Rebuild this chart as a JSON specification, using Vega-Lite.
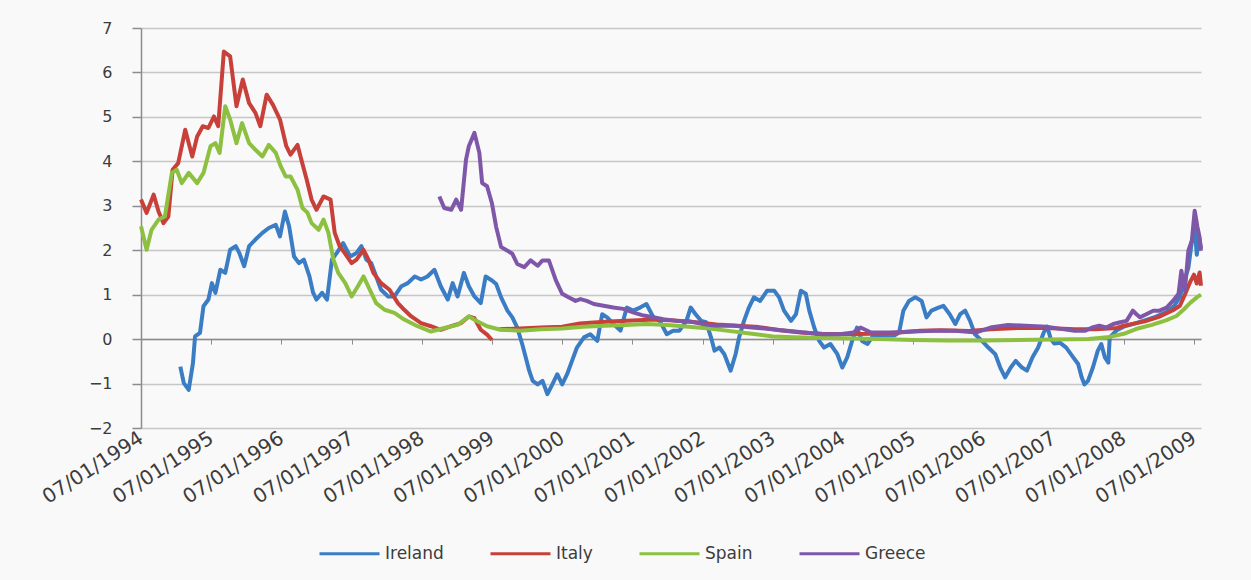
{
  "$schema": "https://vega.github.io/schema/vega-lite/v6.json",
  "width": 1060,
  "height": 400,
  "autosize": {"type": "none"},
  "padding": {"left": 141, "top": 28, "right": 50, "bottom": 152},
  "background": "#f9f9f9",
  "config": {"view": {"stroke": null}, "font": "DejaVu Sans"},
  "data": {"values": [
    {"country":"Ireland","year":1994.56,"spread":-0.62},{"country":"Ireland","year":1994.61,"spread":-0.99},{"country":"Ireland","year":1994.68,"spread":-1.14},{"country":"Ireland","year":1994.74,"spread":-0.54},{"country":"Ireland","year":1994.77,"spread":0.06},{"country":"Ireland","year":1994.84,"spread":0.14},{"country":"Ireland","year":1994.89,"spread":0.74},{"country":"Ireland","year":1994.96,"spread":0.89},{"country":"Ireland","year":1995.01,"spread":1.26},{"country":"Ireland","year":1995.06,"spread":1.04},{"country":"Ireland","year":1995.13,"spread":1.56},{"country":"Ireland","year":1995.2,"spread":1.49},{"country":"Ireland","year":1995.27,"spread":2.01},{"country":"Ireland","year":1995.35,"spread":2.09},{"country":"Ireland","year":1995.4,"spread":1.94},{"country":"Ireland","year":1995.47,"spread":1.64},{"country":"Ireland","year":1995.54,"spread":2.09},{"country":"Ireland","year":1995.63,"spread":2.24},{"country":"Ireland","year":1995.73,"spread":2.39},{"country":"Ireland","year":1995.82,"spread":2.5},{"country":"Ireland","year":1995.92,"spread":2.57},{"country":"Ireland","year":1995.98,"spread":2.31},{"country":"Ireland","year":1996.05,"spread":2.87},{"country":"Ireland","year":1996.11,"spread":2.54},{"country":"Ireland","year":1996.18,"spread":1.86},{"country":"Ireland","year":1996.25,"spread":1.71},{"country":"Ireland","year":1996.32,"spread":1.79},{"country":"Ireland","year":1996.4,"spread":1.41},{"country":"Ireland","year":1996.45,"spread":1.05},{"country":"Ireland","year":1996.5,"spread":0.89},{"country":"Ireland","year":1996.58,"spread":1.04},{"country":"Ireland","year":1996.65,"spread":0.89},{"country":"Ireland","year":1996.72,"spread":1.79},{"country":"Ireland","year":1996.79,"spread":1.94},{"country":"Ireland","year":1996.88,"spread":2.16},{"country":"Ireland","year":1996.98,"spread":1.86},{"country":"Ireland","year":1997.07,"spread":1.94},{"country":"Ireland","year":1997.14,"spread":2.09},{"country":"Ireland","year":1997.21,"spread":1.79},{"country":"Ireland","year":1997.28,"spread":1.71},{"country":"Ireland","year":1997.35,"spread":1.41},{"country":"Ireland","year":1997.42,"spread":1.11},{"country":"Ireland","year":1997.52,"spread":0.96},{"country":"Ireland","year":1997.61,"spread":0.96},{"country":"Ireland","year":1997.71,"spread":1.19},{"country":"Ireland","year":1997.8,"spread":1.26},{"country":"Ireland","year":1997.9,"spread":1.41},{"country":"Ireland","year":1997.99,"spread":1.34},{"country":"Ireland","year":1998.08,"spread":1.41},{"country":"Ireland","year":1998.18,"spread":1.56},{"country":"Ireland","year":1998.27,"spread":1.19},{"country":"Ireland","year":1998.37,"spread":0.89},{"country":"Ireland","year":1998.44,"spread":1.26},{"country":"Ireland","year":1998.51,"spread":0.96},{"country":"Ireland","year":1998.6,"spread":1.49},{"country":"Ireland","year":1998.67,"spread":1.19},{"country":"Ireland","year":1998.75,"spread":0.96},{"country":"Ireland","year":1998.84,"spread":0.81},{"country":"Ireland","year":1998.91,"spread":1.41},{"country":"Ireland","year":1999.0,"spread":1.32},{"country":"Ireland","year":1999.06,"spread":1.24},{"country":"Ireland","year":1999.13,"spread":0.94},{"country":"Ireland","year":1999.22,"spread":0.64},{"country":"Ireland","year":1999.29,"spread":0.49},{"country":"Ireland","year":1999.36,"spread":0.26},{"country":"Ireland","year":1999.43,"spread":-0.11},{"country":"Ireland","year":1999.48,"spread":-0.41},{"country":"Ireland","year":1999.53,"spread":-0.71},{"country":"Ireland","year":1999.58,"spread":-0.94},{"country":"Ireland","year":1999.65,"spread":-1.02},{"country":"Ireland","year":1999.72,"spread":-0.94},{"country":"Ireland","year":1999.79,"spread":-1.24},{"country":"Ireland","year":1999.86,"spread":-1.02},{"country":"Ireland","year":1999.93,"spread":-0.79},{"country":"Ireland","year":2000.0,"spread":-1.02},{"country":"Ireland","year":2000.07,"spread":-0.79},{"country":"Ireland","year":2000.14,"spread":-0.49},{"country":"Ireland","year":2000.21,"spread":-0.19},{"country":"Ireland","year":2000.31,"spread":0.04},{"country":"Ireland","year":2000.4,"spread":0.11},{"country":"Ireland","year":2000.5,"spread":-0.04},{"country":"Ireland","year":2000.57,"spread":0.56},{"country":"Ireland","year":2000.64,"spread":0.49},{"country":"Ireland","year":2000.73,"spread":0.34},{"country":"Ireland","year":2000.83,"spread":0.19},{"country":"Ireland","year":2000.92,"spread":0.71},{"country":"Ireland","year":2001.01,"spread":0.64},{"country":"Ireland","year":2001.11,"spread":0.71},{"country":"Ireland","year":2001.2,"spread":0.79},{"country":"Ireland","year":2001.3,"spread":0.49},{"country":"Ireland","year":2001.39,"spread":0.41},{"country":"Ireland","year":2001.49,"spread":0.11},{"country":"Ireland","year":2001.58,"spread":0.19},{"country":"Ireland","year":2001.67,"spread":0.19},{"country":"Ireland","year":2001.77,"spread":0.41},{"country":"Ireland","year":2001.83,"spread":0.71},{"country":"Ireland","year":2001.9,"spread":0.56},{"country":"Ireland","year":2001.98,"spread":0.41},{"country":"Ireland","year":2002.05,"spread":0.38},{"country":"Ireland","year":2002.12,"spread":0.04},{"country":"Ireland","year":2002.17,"spread":-0.26},{"country":"Ireland","year":2002.24,"spread":-0.19},{"country":"Ireland","year":2002.31,"spread":-0.34},{"country":"Ireland","year":2002.4,"spread":-0.71},{"country":"Ireland","year":2002.47,"spread":-0.34},{"country":"Ireland","year":2002.52,"spread":0.04},{"country":"Ireland","year":2002.59,"spread":0.41},{"country":"Ireland","year":2002.66,"spread":0.71},{"country":"Ireland","year":2002.73,"spread":0.94},{"country":"Ireland","year":2002.82,"spread":0.86},{"country":"Ireland","year":2002.92,"spread":1.09},{"country":"Ireland","year":2003.02,"spread":1.09},{"country":"Ireland","year":2003.09,"spread":0.94},{"country":"Ireland","year":2003.16,"spread":0.64},{"country":"Ireland","year":2003.26,"spread":0.41},{"country":"Ireland","year":2003.33,"spread":0.56},{"country":"Ireland","year":2003.4,"spread":1.09},{"country":"Ireland","year":2003.47,"spread":1.02},{"country":"Ireland","year":2003.52,"spread":0.64},{"country":"Ireland","year":2003.59,"spread":0.26},{"country":"Ireland","year":2003.66,"spread":-0.04},{"country":"Ireland","year":2003.73,"spread":-0.19},{"country":"Ireland","year":2003.82,"spread":-0.11},{"country":"Ireland","year":2003.92,"spread":-0.34},{"country":"Ireland","year":2003.99,"spread":-0.64},{"country":"Ireland","year":2004.06,"spread":-0.41},{"country":"Ireland","year":2004.13,"spread":-0.04},{"country":"Ireland","year":2004.2,"spread":0.26},{"country":"Ireland","year":2004.27,"spread":-0.04},{"country":"Ireland","year":2004.35,"spread":-0.11},{"country":"Ireland","year":2004.44,"spread":0.1},{"country":"Ireland","year":2004.58,"spread":0.08},{"country":"Ireland","year":2004.73,"spread":0.08},{"country":"Ireland","year":2004.8,"spread":0.15},{"country":"Ireland","year":2004.86,"spread":0.64},{"country":"Ireland","year":2004.94,"spread":0.86},{"country":"Ireland","year":2005.03,"spread":0.94},{"country":"Ireland","year":2005.12,"spread":0.86},{"country":"Ireland","year":2005.19,"spread":0.49},{"country":"Ireland","year":2005.26,"spread":0.64},{"country":"Ireland","year":2005.36,"spread":0.71},{"country":"Ireland","year":2005.43,"spread":0.75},{"country":"Ireland","year":2005.52,"spread":0.56},{"country":"Ireland","year":2005.6,"spread":0.34},{"country":"Ireland","year":2005.67,"spread":0.56},{"country":"Ireland","year":2005.74,"spread":0.64},{"country":"Ireland","year":2005.81,"spread":0.41},{"country":"Ireland","year":2005.88,"spread":0.11},{"country":"Ireland","year":2005.98,"spread":-0.04},{"country":"Ireland","year":2006.07,"spread":-0.19},{"country":"Ireland","year":2006.17,"spread":-0.34},{"country":"Ireland","year":2006.24,"spread":-0.64},{"country":"Ireland","year":2006.31,"spread":-0.86},{"country":"Ireland","year":2006.39,"spread":-0.64},{"country":"Ireland","year":2006.46,"spread":-0.49},{"country":"Ireland","year":2006.55,"spread":-0.64},{"country":"Ireland","year":2006.62,"spread":-0.71},{"country":"Ireland","year":2006.7,"spread":-0.41},{"country":"Ireland","year":2006.78,"spread":-0.19},{"country":"Ireland","year":2006.86,"spread":0.15},{"country":"Ireland","year":2006.91,"spread":0.28},{"country":"Ireland","year":2006.96,"spread":0.0},{"country":"Ireland","year":2007.01,"spread":-0.1},{"country":"Ireland","year":2007.09,"spread":-0.08},{"country":"Ireland","year":2007.18,"spread":-0.19},{"country":"Ireland","year":2007.28,"spread":-0.41},{"country":"Ireland","year":2007.35,"spread":-0.56},{"country":"Ireland","year":2007.4,"spread":-0.86},{"country":"Ireland","year":2007.44,"spread":-1.02},{"country":"Ireland","year":2007.49,"spread":-0.94},{"country":"Ireland","year":2007.56,"spread":-0.64},{"country":"Ireland","year":2007.63,"spread":-0.26},{"country":"Ireland","year":2007.68,"spread":-0.11},{"country":"Ireland","year":2007.73,"spread":-0.41},{"country":"Ireland","year":2007.78,"spread":-0.53},{"country":"Ireland","year":2007.8,"spread":0.04},{"country":"Ireland","year":2007.9,"spread":0.2},{"country":"Ireland","year":2008.0,"spread":0.28},{"country":"Ireland","year":2008.15,"spread":0.35},{"country":"Ireland","year":2008.3,"spread":0.42},{"country":"Ireland","year":2008.45,"spread":0.5},{"country":"Ireland","year":2008.6,"spread":0.6},{"country":"Ireland","year":2008.72,"spread":0.75},{"country":"Ireland","year":2008.8,"spread":0.95},{"country":"Ireland","year":2008.86,"spread":1.3},{"country":"Ireland","year":2008.92,"spread":1.6},{"country":"Ireland","year":2008.97,"spread":2.2},{"country":"Ireland","year":2009.01,"spread":2.5},{"country":"Ireland","year":2009.04,"spread":1.9},{"country":"Ireland","year":2009.07,"spread":2.3},{"country":"Ireland","year":2009.1,"spread":2.05},

    {"country":"Italy","part":1,"year":1994.0,"spread":3.14},{"country":"Italy","part":1,"year":1994.08,"spread":2.84},{"country":"Italy","part":1,"year":1994.18,"spread":3.25},{"country":"Italy","part":1,"year":1994.25,"spread":2.87},{"country":"Italy","part":1,"year":1994.32,"spread":2.61},{"country":"Italy","part":1,"year":1994.39,"spread":2.76},{"country":"Italy","part":1,"year":1994.45,"spread":3.81},{"country":"Italy","part":1,"year":1994.53,"spread":3.96},{"country":"Italy","part":1,"year":1994.63,"spread":4.71},{"country":"Italy","part":1,"year":1994.73,"spread":4.11},{"country":"Italy","part":1,"year":1994.8,"spread":4.56},{"country":"Italy","part":1,"year":1994.88,"spread":4.79},{"country":"Italy","part":1,"year":1994.96,"spread":4.75},{"country":"Italy","part":1,"year":1995.04,"spread":5.01},{"country":"Italy","part":1,"year":1995.1,"spread":4.79},{"country":"Italy","part":1,"year":1995.18,"spread":6.47},{"country":"Italy","part":1,"year":1995.27,"spread":6.36},{"country":"Italy","part":1,"year":1995.36,"spread":5.24},{"country":"Italy","part":1,"year":1995.45,"spread":5.84},{"country":"Italy","part":1,"year":1995.54,"spread":5.31},{"country":"Italy","part":1,"year":1995.63,"spread":5.09},{"country":"Italy","part":1,"year":1995.7,"spread":4.79},{"country":"Italy","part":1,"year":1995.79,"spread":5.5},{"country":"Italy","part":1,"year":1995.88,"spread":5.27},{"country":"Italy","part":1,"year":1995.98,"spread":4.94},{"country":"Italy","part":1,"year":1996.07,"spread":4.34},{"country":"Italy","part":1,"year":1996.13,"spread":4.15},{"country":"Italy","part":1,"year":1996.23,"spread":4.37},{"country":"Italy","part":1,"year":1996.29,"spread":4.0},{"country":"Italy","part":1,"year":1996.36,"spread":3.59},{"country":"Italy","part":1,"year":1996.43,"spread":3.14},{"country":"Italy","part":1,"year":1996.5,"spread":2.91},{"country":"Italy","part":1,"year":1996.6,"spread":3.21},{"country":"Italy","part":1,"year":1996.7,"spread":3.14},{"country":"Italy","part":1,"year":1996.76,"spread":2.39},{"country":"Italy","part":1,"year":1996.83,"spread":2.09},{"country":"Italy","part":1,"year":1996.9,"spread":1.94},{"country":"Italy","part":1,"year":1997.0,"spread":1.71},{"country":"Italy","part":1,"year":1997.07,"spread":1.79},{"country":"Italy","part":1,"year":1997.17,"spread":2.01},{"country":"Italy","part":1,"year":1997.24,"spread":1.79},{"country":"Italy","part":1,"year":1997.31,"spread":1.49},{"country":"Italy","part":1,"year":1997.42,"spread":1.26},{"country":"Italy","part":1,"year":1997.54,"spread":1.11},{"country":"Italy","part":1,"year":1997.66,"spread":0.81},{"country":"Italy","part":1,"year":1997.75,"spread":0.66},{"country":"Italy","part":1,"year":1997.85,"spread":0.51},{"country":"Italy","part":1,"year":1997.99,"spread":0.36},{"country":"Italy","part":1,"year":1998.13,"spread":0.29},{"country":"Italy","part":1,"year":1998.27,"spread":0.21},{"country":"Italy","part":1,"year":1998.42,"spread":0.29},{"country":"Italy","part":1,"year":1998.56,"spread":0.36},{"country":"Italy","part":1,"year":1998.67,"spread":0.51},{"country":"Italy","part":1,"year":1998.75,"spread":0.47},{"country":"Italy","part":1,"year":1998.84,"spread":0.21},{"country":"Italy","part":1,"year":1998.93,"spread":0.1},{"country":"Italy","part":1,"year":1999.0,"spread":-0.02},
    {"country":"Italy","part":2,"year":1999.1,"spread":0.22},{"country":"Italy","part":2,"year":1999.4,"spread":0.24},{"country":"Italy","part":2,"year":1999.7,"spread":0.26},{"country":"Italy","part":2,"year":2000.0,"spread":0.28},{"country":"Italy","part":2,"year":2000.25,"spread":0.35},{"country":"Italy","part":2,"year":2000.5,"spread":0.38},{"country":"Italy","part":2,"year":2000.75,"spread":0.4},{"country":"Italy","part":2,"year":2001.0,"spread":0.42},{"country":"Italy","part":2,"year":2001.3,"spread":0.44},{"country":"Italy","part":2,"year":2001.6,"spread":0.42},{"country":"Italy","part":2,"year":2001.9,"spread":0.38},{"country":"Italy","part":2,"year":2002.2,"spread":0.33},{"country":"Italy","part":2,"year":2002.5,"spread":0.3},{"country":"Italy","part":2,"year":2002.8,"spread":0.27},{"country":"Italy","part":2,"year":2003.1,"spread":0.2},{"country":"Italy","part":2,"year":2003.4,"spread":0.15},{"country":"Italy","part":2,"year":2003.7,"spread":0.12},{"country":"Italy","part":2,"year":2004.0,"spread":0.11},{"country":"Italy","part":2,"year":2004.4,"spread":0.12},{"country":"Italy","part":2,"year":2004.8,"spread":0.15},{"country":"Italy","part":2,"year":2005.1,"spread":0.19},{"country":"Italy","part":2,"year":2005.4,"spread":0.2},{"country":"Italy","part":2,"year":2005.8,"spread":0.18},{"country":"Italy","part":2,"year":2006.1,"spread":0.22},{"country":"Italy","part":2,"year":2006.5,"spread":0.25},{"country":"Italy","part":2,"year":2006.9,"spread":0.25},{"country":"Italy","part":2,"year":2007.3,"spread":0.22},{"country":"Italy","part":2,"year":2007.6,"spread":0.22},{"country":"Italy","part":2,"year":2007.9,"spread":0.25},{"country":"Italy","part":2,"year":2008.0,"spread":0.3},{"country":"Italy","part":2,"year":2008.3,"spread":0.4},{"country":"Italy","part":2,"year":2008.5,"spread":0.5},{"country":"Italy","part":2,"year":2008.7,"spread":0.65},{"country":"Italy","part":2,"year":2008.8,"spread":0.75},{"country":"Italy","part":2,"year":2008.87,"spread":1.0},{"country":"Italy","part":2,"year":2008.95,"spread":1.3},{"country":"Italy","part":2,"year":2009.0,"spread":1.45},{"country":"Italy","part":2,"year":2009.04,"spread":1.25},{"country":"Italy","part":2,"year":2009.08,"spread":1.5},{"country":"Italy","part":2,"year":2009.1,"spread":1.2},

    {"country":"Spain","year":1994.0,"spread":2.54},{"country":"Spain","year":1994.08,"spread":2.01},{"country":"Spain","year":1994.15,"spread":2.46},{"country":"Spain","year":1994.25,"spread":2.69},{"country":"Spain","year":1994.34,"spread":2.76},{"country":"Spain","year":1994.44,"spread":3.74},{"country":"Spain","year":1994.51,"spread":3.81},{"country":"Spain","year":1994.58,"spread":3.51},{"country":"Spain","year":1994.68,"spread":3.74},{"country":"Spain","year":1994.8,"spread":3.51},{"country":"Spain","year":1994.89,"spread":3.74},{"country":"Spain","year":1994.99,"spread":4.34},{"country":"Spain","year":1995.06,"spread":4.41},{"country":"Spain","year":1995.12,"spread":4.19},{"country":"Spain","year":1995.2,"spread":5.24},{"country":"Spain","year":1995.27,"spread":4.94},{"country":"Spain","year":1995.36,"spread":4.41},{"country":"Spain","year":1995.44,"spread":4.86},{"country":"Spain","year":1995.54,"spread":4.41},{"country":"Spain","year":1995.63,"spread":4.26},{"country":"Spain","year":1995.73,"spread":4.11},{"country":"Spain","year":1995.82,"spread":4.37},{"country":"Spain","year":1995.92,"spread":4.19},{"country":"Spain","year":1995.99,"spread":3.89},{"country":"Spain","year":1996.06,"spread":3.66},{"country":"Spain","year":1996.13,"spread":3.66},{"country":"Spain","year":1996.23,"spread":3.36},{"country":"Spain","year":1996.3,"spread":2.95},{"country":"Spain","year":1996.37,"spread":2.85},{"country":"Spain","year":1996.43,"spread":2.61},{"country":"Spain","year":1996.53,"spread":2.46},{"country":"Spain","year":1996.6,"spread":2.69},{"country":"Spain","year":1996.67,"spread":2.39},{"country":"Spain","year":1996.74,"spread":1.79},{"country":"Spain","year":1996.81,"spread":1.49},{"country":"Spain","year":1996.91,"spread":1.26},{"country":"Spain","year":1997.0,"spread":0.96},{"country":"Spain","year":1997.09,"spread":1.19},{"country":"Spain","year":1997.17,"spread":1.41},{"country":"Spain","year":1997.26,"spread":1.11},{"country":"Spain","year":1997.35,"spread":0.81},{"country":"Spain","year":1997.47,"spread":0.66},{"country":"Spain","year":1997.61,"spread":0.59},{"country":"Spain","year":1997.75,"spread":0.44},{"country":"Spain","year":1997.94,"spread":0.29},{"country":"Spain","year":1998.13,"spread":0.17},{"country":"Spain","year":1998.32,"spread":0.25},{"country":"Spain","year":1998.51,"spread":0.32},{"country":"Spain","year":1998.67,"spread":0.51},{"country":"Spain","year":1998.79,"spread":0.4},{"country":"Spain","year":1998.93,"spread":0.29},{"country":"Spain","year":1999.12,"spread":0.21},{"country":"Spain","year":1999.4,"spread":0.19},{"country":"Spain","year":1999.7,"spread":0.22},{"country":"Spain","year":2000.0,"spread":0.24},{"country":"Spain","year":2000.3,"spread":0.28},{"country":"Spain","year":2000.6,"spread":0.3},{"country":"Spain","year":2000.9,"spread":0.32},{"country":"Spain","year":2001.2,"spread":0.34},{"country":"Spain","year":2001.5,"spread":0.32},{"country":"Spain","year":2001.8,"spread":0.28},{"country":"Spain","year":2002.1,"spread":0.24},{"country":"Spain","year":2002.4,"spread":0.18},{"country":"Spain","year":2002.7,"spread":0.12},{"country":"Spain","year":2003.0,"spread":0.06},{"country":"Spain","year":2003.3,"spread":0.04},{"country":"Spain","year":2003.6,"spread":0.03},{"country":"Spain","year":2004.0,"spread":0.02},{"country":"Spain","year":2004.5,"spread":0.0},{"country":"Spain","year":2005.0,"spread":-0.02},{"country":"Spain","year":2005.5,"spread":-0.03},{"country":"Spain","year":2006.0,"spread":-0.03},{"country":"Spain","year":2006.5,"spread":-0.02},{"country":"Spain","year":2007.0,"spread":-0.01},{"country":"Spain","year":2007.5,"spread":0.0},{"country":"Spain","year":2007.8,"spread":0.05},{"country":"Spain","year":2008.0,"spread":0.12},{"country":"Spain","year":2008.2,"spread":0.24},{"country":"Spain","year":2008.4,"spread":0.32},{"country":"Spain","year":2008.6,"spread":0.42},{"country":"Spain","year":2008.75,"spread":0.52},{"country":"Spain","year":2008.85,"spread":0.66},{"country":"Spain","year":2008.95,"spread":0.82},{"country":"Spain","year":2009.05,"spread":0.95},{"country":"Spain","year":2009.1,"spread":1.0},

    {"country":"Greece","year":1998.25,"spread":3.21},{"country":"Greece","year":1998.32,"spread":2.95},{"country":"Greece","year":1998.42,"spread":2.91},{"country":"Greece","year":1998.49,"spread":3.14},{"country":"Greece","year":1998.56,"spread":2.91},{"country":"Greece","year":1998.63,"spread":4.04},{"country":"Greece","year":1998.67,"spread":4.34},{"country":"Greece","year":1998.75,"spread":4.64},{"country":"Greece","year":1998.82,"spread":4.19},{"country":"Greece","year":1998.86,"spread":3.51},{"country":"Greece","year":1998.93,"spread":3.44},{"country":"Greece","year":1999.0,"spread":3.05},{"country":"Greece","year":1999.06,"spread":2.52},{"country":"Greece","year":1999.13,"spread":2.07},{"country":"Greece","year":1999.22,"spread":1.99},{"country":"Greece","year":1999.29,"spread":1.92},{"country":"Greece","year":1999.36,"spread":1.69},{"country":"Greece","year":1999.46,"spread":1.62},{"country":"Greece","year":1999.55,"spread":1.77},{"country":"Greece","year":1999.65,"spread":1.65},{"country":"Greece","year":1999.72,"spread":1.77},{"country":"Greece","year":1999.81,"spread":1.77},{"country":"Greece","year":1999.91,"spread":1.32},{"country":"Greece","year":2000.0,"spread":1.02},{"country":"Greece","year":2000.09,"spread":0.94},{"country":"Greece","year":2000.19,"spread":0.86},{"country":"Greece","year":2000.26,"spread":0.9},{"country":"Greece","year":2000.35,"spread":0.86},{"country":"Greece","year":2000.45,"spread":0.79},{"country":"Greece","year":2000.59,"spread":0.75},{"country":"Greece","year":2000.73,"spread":0.71},{"country":"Greece","year":2000.87,"spread":0.68},{"country":"Greece","year":2001.01,"spread":0.6},{"country":"Greece","year":2001.16,"spread":0.53},{"country":"Greece","year":2001.3,"spread":0.49},{"country":"Greece","year":2001.44,"spread":0.45},{"country":"Greece","year":2001.63,"spread":0.41},{"country":"Greece","year":2001.82,"spread":0.4},{"country":"Greece","year":2002.0,"spread":0.34},{"country":"Greece","year":2002.2,"spread":0.3},{"country":"Greece","year":2002.45,"spread":0.3},{"country":"Greece","year":2002.7,"spread":0.26},{"country":"Greece","year":2002.95,"spread":0.23},{"country":"Greece","year":2003.2,"spread":0.19},{"country":"Greece","year":2003.45,"spread":0.15},{"country":"Greece","year":2003.7,"spread":0.11},{"country":"Greece","year":2003.95,"spread":0.11},{"country":"Greece","year":2004.15,"spread":0.15},{"country":"Greece","year":2004.25,"spread":0.26},{"country":"Greece","year":2004.4,"spread":0.15},{"country":"Greece","year":2004.7,"spread":0.15},{"country":"Greece","year":2005.0,"spread":0.17},{"country":"Greece","year":2005.3,"spread":0.19},{"country":"Greece","year":2005.6,"spread":0.19},{"country":"Greece","year":2005.9,"spread":0.15},{"country":"Greece","year":2006.1,"spread":0.26},{"country":"Greece","year":2006.35,"spread":0.32},{"country":"Greece","year":2006.6,"spread":0.3},{"country":"Greece","year":2006.9,"spread":0.28},{"country":"Greece","year":2007.1,"spread":0.23},{"country":"Greece","year":2007.3,"spread":0.19},{"country":"Greece","year":2007.45,"spread":0.19},{"country":"Greece","year":2007.55,"spread":0.26},{"country":"Greece","year":2007.65,"spread":0.3},{"country":"Greece","year":2007.75,"spread":0.26},{"country":"Greece","year":2007.85,"spread":0.34},{"country":"Greece","year":2007.95,"spread":0.38},{"country":"Greece","year":2008.04,"spread":0.41},{"country":"Greece","year":2008.13,"spread":0.64},{"country":"Greece","year":2008.18,"spread":0.56},{"country":"Greece","year":2008.23,"spread":0.49},{"country":"Greece","year":2008.32,"spread":0.56},{"country":"Greece","year":2008.42,"spread":0.64},{"country":"Greece","year":2008.51,"spread":0.64},{"country":"Greece","year":2008.61,"spread":0.71},{"country":"Greece","year":2008.7,"spread":0.86},{"country":"Greece","year":2008.78,"spread":1.02},{"country":"Greece","year":2008.82,"spread":1.54},{"country":"Greece","year":2008.87,"spread":1.09},{"country":"Greece","year":2008.92,"spread":1.99},{"country":"Greece","year":2008.97,"spread":2.22},{"country":"Greece","year":2009.01,"spread":2.89},{"country":"Greece","year":2009.05,"spread":2.52},{"country":"Greece","year":2009.08,"spread":2.29},{"country":"Greece","year":2009.1,"spread":1.99}
  ]},
  "encoding": {
    "y": {"field": "spread", "type": "quantitative",
      "scale": {"domain": [-2, 7], "nice": false, "zero": false},
      "axis": {"values": [-2,-1,0,1,2,3,4,5,6,7], "title": null, "grid": true, "gridColor": "#c6c6c6", "gridWidth": 1.5,
        "domain": true, "domainColor": "#8c8c8c", "domainWidth": 1.5, "ticks": true, "tickSize": 9, "tickColor": "#8c8c8c", "tickWidth": 1.5,
        "labelFontSize": 16, "labelColor": "#3c3c3c", "labelPadding": 20}},
    "color": {"field": "country", "type": "nominal",
      "scale": {"domain": ["Ireland", "Italy", "Spain", "Greece"], "range": ["#3b7dc4", "#c8403a", "#8dc040", "#7f57a8"]},
      "legend": {"title": null, "orient": "none", "direction": "horizontal", "legendX": 177, "legendY": 494,
        "symbolType": "stroke", "symbolSize": 3600, "symbolStrokeWidth": 3, "labelFontSize": 17, "labelColor": "#3c3c3c",
        "labelOffset": 4, "columnPadding": 40}},
    "detail": {"field": "part", "type": "nominal"}
  },
  "layer": [
    {"transform": [{"filter": "datum.country === 'Ireland'"}],
     "mark": {"type": "line", "strokeWidth": 4, "strokeJoin": "round"},
     "encoding": {"x": {"field": "year", "type": "quantitative", "scale": {"domain": [1994, 2009.1], "nice": false, "zero": false},
       "axis": {"orient": "bottom", "values": [1994,1995,1996,1997,1998,1999,2000,2001,2002,2003,2004,2005,2006,2007,2008,2009],
         "labelExpr": "'07/01/' + datum.value", "labelAngle": -33, "labelAlign": "right", "labelBaseline": "middle",
         "labelFontSize": 20, "labelColor": "#3c3c3c", "labelPadding": 8, "labelOverlap": false, "labelFlush": false, "labelBound": false,
         "domain": false, "ticks": false, "grid": false, "title": null}}}},
    {"transform": [{"filter": "datum.country === 'Italy'"}],
     "mark": {"type": "line", "strokeWidth": 4, "strokeJoin": "round"},
     "encoding": {"x": {"field": "year", "type": "quantitative",
       "axis": {"orient": "bottom", "offset": -88.9, "values": [1994,1995,1996,1997,1998,1999,2000,2001,2002,2003,2004,2005,2006,2007,2008,2009],
         "labels": false, "domain": true, "domainColor": "#8c8c8c", "domainWidth": 1.5, "ticks": true, "tickSize": 5, "tickColor": "#8c8c8c", "grid": false, "title": null}}}},
    {"transform": [{"filter": "datum.country === 'Spain'"}],
     "mark": {"type": "line", "strokeWidth": 4, "strokeJoin": "round"},
     "encoding": {"x": {"field": "year", "type": "quantitative", "axis": null}}},
    {"transform": [{"filter": "datum.country === 'Greece'"}],
     "mark": {"type": "line", "strokeWidth": 4, "strokeJoin": "round"},
     "encoding": {"x": {"field": "year", "type": "quantitative", "axis": null}}}
  ],
  "resolve": {"axis": {"x": "independent"}}
}
